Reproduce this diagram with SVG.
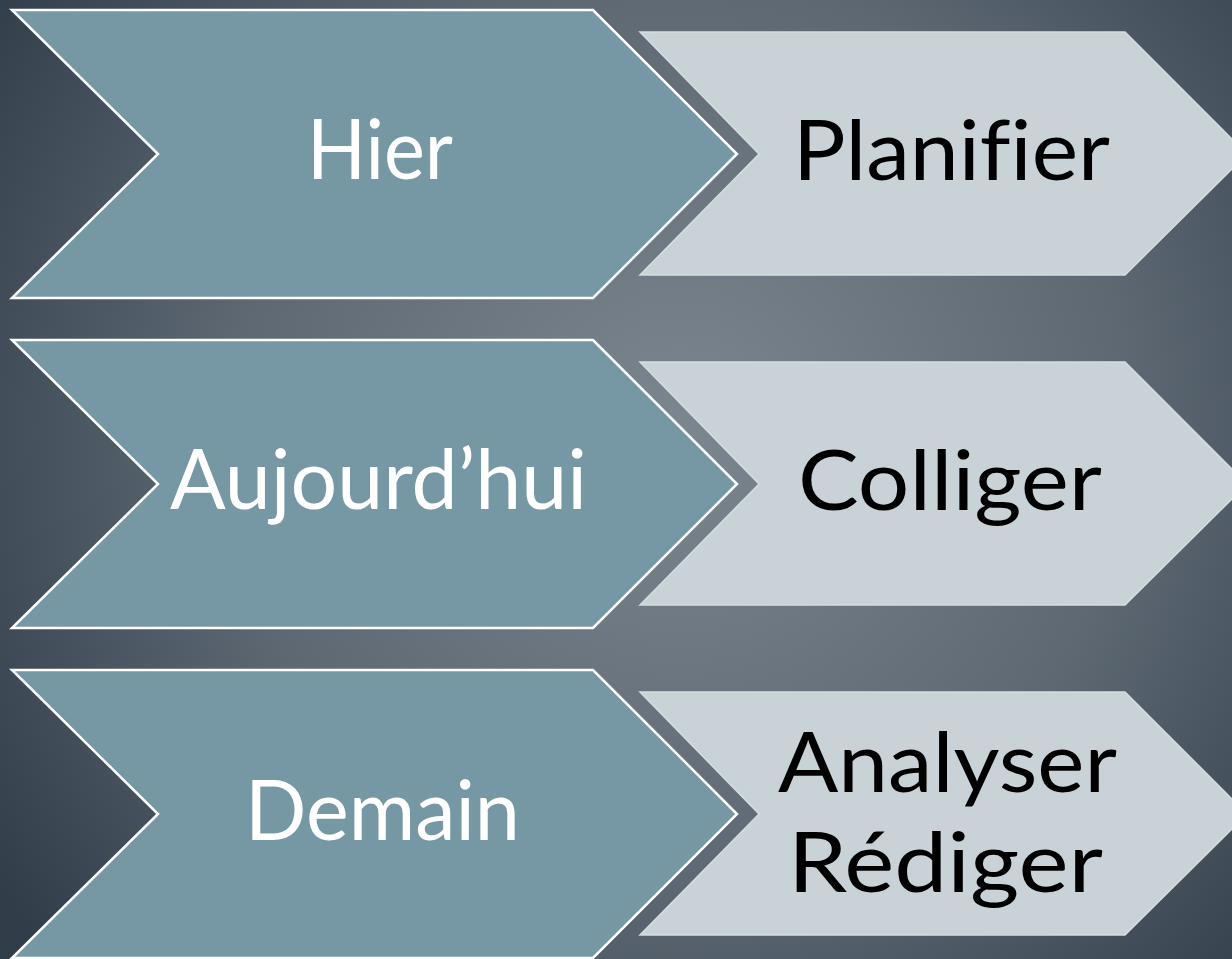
<svg xmlns="http://www.w3.org/2000/svg" width="1232" height="959" viewBox="0 0 1232 959">
  <defs>
    <radialGradient id="bg" cx="680" cy="430" r="820" gradientUnits="userSpaceOnUse">
      <stop offset="0" stop-color="#7b868f"/>
      <stop offset="0.55" stop-color="#5d6873"/>
      <stop offset="1" stop-color="#313d49"/>
    </radialGradient>
    <style>
      .chev { fill: #7598a4; stroke: #ffffff; stroke-width: 2.5; stroke-linejoin: miter; }
      .step { fill: #c9d2d7; stroke: #d6dde0; stroke-width: 1.5; }
      .lbl { font-family: "Lato", "Liberation Sans", sans-serif; font-size: 84px; font-variant-ligatures: none; font-feature-settings: "liga" 0; }
      .w { fill: #ffffff; }
      .k { fill: #000000; }
    </style>
  </defs>
  <rect x="0" y="0" width="1232" height="959" fill="url(#bg)"/>

  <g id="row1">
    <g id="hier">
      <polygon class="chev" points="12,10 593,10 737,154 593,298 12,298 158,154"/>
      <text class="lbl w" x="307" y="179" textLength="146" lengthAdjust="spacingAndGlyphs">Hier</text>
    </g>
    <g id="planifier">
      <polygon class="step" points="640,32 1125,32 1247,154 1125,275 640,275 759,154"/>
      <text class="lbl k" x="793" y="180" textLength="317" lengthAdjust="spacingAndGlyphs">Planifier</text>
    </g>
  </g>

  <g id="row2">
    <g id="aujourdhui">
      <polygon class="chev" points="12,340 593,340 737,484 593,628 12,628 158,484"/>
      <text class="lbl w" x="170" y="509" textLength="417" lengthAdjust="spacingAndGlyphs">Aujourd’hui</text>
    </g>
    <g id="colliger">
      <polygon class="step" points="640,362 1125,362 1247,484 1125,605 640,605 759,484"/>
      <text class="lbl k" x="798" y="510" textLength="304" lengthAdjust="spacingAndGlyphs">Colliger</text>
    </g>
  </g>

  <g id="row3">
    <g id="demain">
      <polygon class="chev" points="12,670 593,670 737,814 593,958 12,958 158,814"/>
      <text class="lbl w" x="245" y="840" textLength="275" lengthAdjust="spacingAndGlyphs">Demain</text>
    </g>
    <g id="analyser-rediger">
      <polygon class="step" points="640,692 1125,692 1247,814 1125,935 640,935 759,814"/>
      <text class="lbl k" x="778" y="792" textLength="339" lengthAdjust="spacingAndGlyphs">Analyser</text>
      <text class="lbl k" x="788" y="892" textLength="315" lengthAdjust="spacingAndGlyphs">Rédiger</text>
    </g>
  </g>

  <g id="connectors"/>
</svg>
